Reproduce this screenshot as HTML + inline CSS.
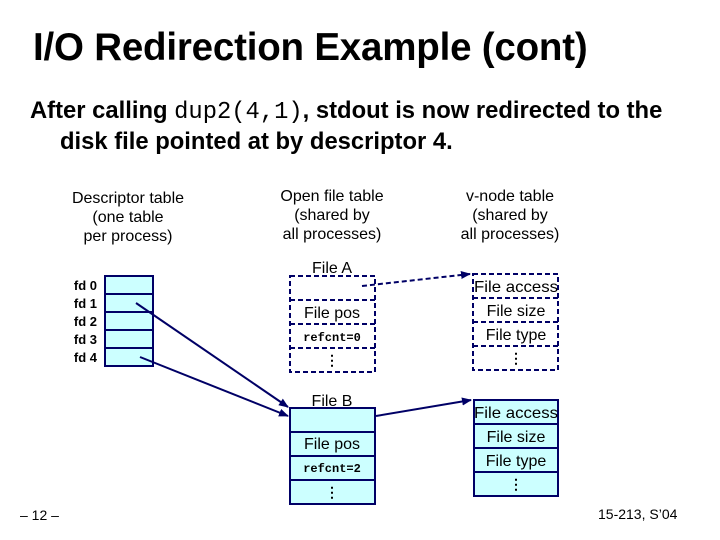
<!DOCTYPE html>
<html><head><style>
body{margin:0;width:720px;height:540px;background:#fff;overflow:hidden;font-family:"Liberation Sans",Arial,sans-serif;position:relative}
.t{position:absolute;white-space:nowrap}
</style></head><body>
<div class="t" style="left:33px;top:26px;font-size:38.5px;font-weight:bold;letter-spacing:-0.2px">I/O Redirection Example (cont)</div>
<div class="t" style="left:30px;top:96px;font-size:23.8px;font-weight:bold;line-height:29px">After calling <span style="font-family:'Liberation Mono',monospace;font-weight:normal">dup2(4,1)</span>, stdout is now redirected to the<br><span style="padding-left:30px">disk file pointed at by descriptor 4.</span></div>
<div class="t" style="left:58px;top:189px;width:140px;text-align:center;font-size:16px;line-height:19px">Descriptor table<br>(one table<br>per process)</div>
<div class="t" style="left:262px;top:187px;width:140px;text-align:center;font-size:16px;line-height:19px">Open file table<br>(shared by<br>all processes)</div>
<div class="t" style="left:440px;top:187px;width:140px;text-align:center;font-size:16px;line-height:19px">v-node table<br>(shared by<br>all processes)</div>
<div class="t" style="left:20px;top:507px;font-size:14px">– 12 –</div>
<div class="t" style="left:598px;top:506px;font-size:14px">15-213, S’04</div>
<svg width="720" height="540" style="position:absolute;left:0;top:0" font-family="Liberation Sans,Arial,sans-serif">
<defs><marker id="a" markerWidth="10" markerHeight="8" refX="9" refY="4" orient="auto" markerUnits="userSpaceOnUse"><path d="M0,0L10,4L0,8z" fill="#000066"/></marker></defs>
<g font-size="13" font-weight="bold" text-anchor="end">
<text x="97" y="290">fd 0</text><text x="97" y="308">fd 1</text><text x="97" y="326">fd 2</text><text x="97" y="344">fd 3</text><text x="97" y="362">fd 4</text></g>
<g fill="#ccffff" stroke="#000066" stroke-width="2">
<rect x="105" y="276" width="48" height="90"/>
<line x1="105" y1="294" x2="153" y2="294"/><line x1="105" y1="312" x2="153" y2="312"/><line x1="105" y1="330" x2="153" y2="330"/><line x1="105" y1="348" x2="153" y2="348"/>
<rect x="290" y="408" width="85" height="96"/>
<line x1="290" y1="432" x2="375" y2="432"/><line x1="290" y1="456" x2="375" y2="456"/><line x1="290" y1="480" x2="375" y2="480"/>
<rect x="474" y="400" width="84" height="96"/>
<line x1="474" y1="424" x2="558" y2="424"/><line x1="474" y1="448" x2="558" y2="448"/><line x1="474" y1="472" x2="558" y2="472"/>
</g>
<g fill="none" stroke="#000066" stroke-width="2" stroke-dasharray="5,3">
<rect x="290" y="276" width="85" height="96"/>
<line x1="290" y1="300" x2="375" y2="300"/><line x1="290" y1="324" x2="375" y2="324"/><line x1="290" y1="348" x2="375" y2="348"/>
<rect x="473" y="274" width="85" height="96"/>
<line x1="473" y1="298" x2="558" y2="298"/><line x1="473" y1="322" x2="558" y2="322"/><line x1="473" y1="346" x2="558" y2="346"/>
<line x1="362" y1="286" x2="470" y2="274" marker-end="url(#a)"/>
</g>
<g stroke="#000066" stroke-width="2">
<line x1="136" y1="303" x2="288" y2="407" marker-end="url(#a)"/>
<line x1="140" y1="357" x2="288" y2="416" marker-end="url(#a)"/>
<line x1="376" y1="416" x2="471" y2="400" marker-end="url(#a)"/>
</g>
<g font-size="16" text-anchor="middle">
<text x="332" y="273">File A</text><text x="332" y="318">File pos</text>
<text x="332" y="406">File B</text><text x="332" y="449">File pos</text>
<text x="516" y="292" textLength="84" lengthAdjust="spacingAndGlyphs">File access</text><text x="516" y="316">File size</text><text x="516" y="340">File type</text>
<text x="516" y="418" textLength="84" lengthAdjust="spacingAndGlyphs">File access</text><text x="516" y="442">File size</text><text x="516" y="466">File type</text>
</g>
<g font-size="12" font-family="Liberation Mono,monospace" font-weight="bold" text-anchor="middle">
<text x="332" y="341">refcnt=0</text><text x="332" y="472">refcnt=2</text></g>
<g font-size="14" font-weight="bold" text-anchor="middle">
<text x="332" y="365">⋮</text><text x="332" y="497">⋮</text><text x="516" y="363">⋮</text><text x="516" y="489">⋮</text></g>
</svg>
</body></html>
